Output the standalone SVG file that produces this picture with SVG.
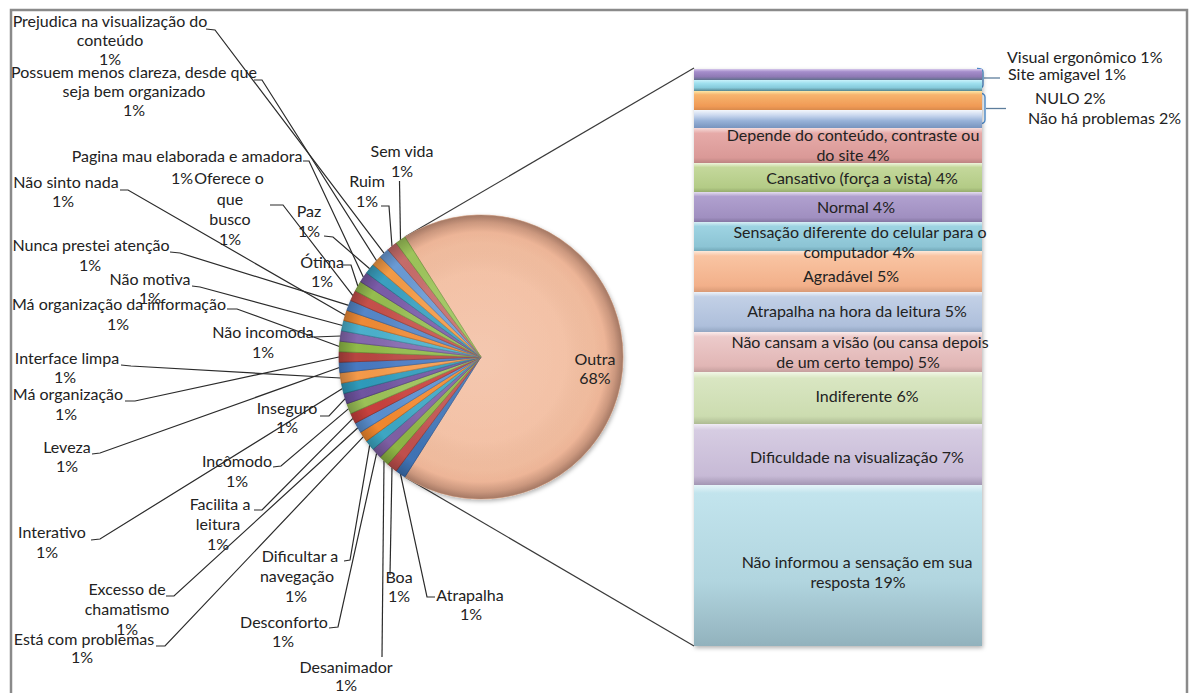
<svg xmlns="http://www.w3.org/2000/svg" xmlns:xlink="http://www.w3.org/1999/xlink" width="1191" height="693" viewBox="0 0 1191 693">
  <style>
    text { font-family: Lato, "Liberation Sans", sans-serif; font-size: 16px; fill: #222; }
    .lbl text { text-anchor: middle; }
    .side text { text-anchor: start; }
    .lead { fill: none; stroke: #2b2b2b; stroke-width: 1.2; }
    .series { fill: none; stroke: #3a3a3a; stroke-width: 1.2; }
    .brace { fill: none; stroke: #4f8fd0; stroke-width: 1.4; }
    .tick { fill: none; stroke: #5d7d9c; stroke-width: 1.3; }
    .slice { stroke-width: 0.8; stroke-opacity: 0.9; }
  </style>
  <defs>
    <!-- one 1/27 wedge of the 32% block, pointing up from the pie centre -->
    <path id="wedge" d="M0,0 L0,-142 A142,142 0 0 1 10.57,-141.61 Z"/>
    <radialGradient id="outraFill" cx="481" cy="357" r="142" gradientUnits="userSpaceOnUse">
      <stop offset="0" stop-color="#f3c0a5"/>
      <stop offset="0.8" stop-color="#f2bd9f"/>
      <stop offset="0.95" stop-color="#e8ad90"/>
      <stop offset="1" stop-color="#d39a80"/>
    </radialGradient>
    <radialGradient id="pieShade" cx="481" cy="357" r="142" gradientUnits="userSpaceOnUse">
      <stop offset="0" stop-color="#ffffff" stop-opacity="0.12"/>
      <stop offset="0.6" stop-color="#ffffff" stop-opacity="0.06"/>
      <stop offset="0.88" stop-color="#000000" stop-opacity="0"/>
      <stop offset="1" stop-color="#000000" stop-opacity="0.22"/>
    </radialGradient>
    <filter id="soft" x="-10%" y="-10%" width="120%" height="120%">
      <feDropShadow dx="1" dy="2" stdDeviation="2" flood-color="#000" flood-opacity="0.3"/>
    </filter>
    <!-- bar segment shading: bright top edge, darker bottom edge -->
    <linearGradient id="gVE" x1="0" y1="0" x2="0" y2="1"><stop offset="0" stop-color="#d6c8ec"/><stop offset="0.25" stop-color="#a58dcb"/><stop offset="0.7" stop-color="#8f7ab5"/><stop offset="1" stop-color="#5f6f8c"/></linearGradient>
    <linearGradient id="gSA" x1="0" y1="0" x2="0" y2="1"><stop offset="0" stop-color="#c9f1fa"/><stop offset="0.3" stop-color="#9fe0ef"/><stop offset="0.7" stop-color="#86cadb"/><stop offset="1" stop-color="#56858f"/></linearGradient>
    <linearGradient id="gNULO" x1="0" y1="0" x2="0" y2="1"><stop offset="0" stop-color="#fde7a6"/><stop offset="0.2" stop-color="#f7b46e"/><stop offset="0.8" stop-color="#f09a55"/><stop offset="1" stop-color="#d98a4c"/></linearGradient>
    <linearGradient id="gNHP" x1="0" y1="0" x2="0" y2="1"><stop offset="0" stop-color="#f4f7fc"/><stop offset="0.3" stop-color="#c9d7ee"/><stop offset="0.6" stop-color="#98b2d8"/><stop offset="1" stop-color="#7894be"/></linearGradient>
    <linearGradient id="gDep" x1="0" y1="0" x2="0" y2="1"><stop offset="0" stop-color="#f6dcdb"/><stop offset="0.15" stop-color="#e6aaa8"/><stop offset="0.85" stop-color="#da9997"/><stop offset="1" stop-color="#bd8482"/></linearGradient>
    <linearGradient id="gCan" x1="0" y1="0" x2="0" y2="1"><stop offset="0" stop-color="#eef4dc"/><stop offset="0.15" stop-color="#c4d89b"/><stop offset="0.85" stop-color="#b3cb86"/><stop offset="1" stop-color="#97ad6e"/></linearGradient>
    <linearGradient id="gNor" x1="0" y1="0" x2="0" y2="1"><stop offset="0" stop-color="#e4ddef"/><stop offset="0.15" stop-color="#b0a0cf"/><stop offset="0.85" stop-color="#a08fc0"/><stop offset="1" stop-color="#8576a3"/></linearGradient>
    <linearGradient id="gSen" x1="0" y1="0" x2="0" y2="1"><stop offset="0" stop-color="#d8eff5"/><stop offset="0.15" stop-color="#9dd3e2"/><stop offset="0.85" stop-color="#8cc4d4"/><stop offset="1" stop-color="#72a8b8"/></linearGradient>
    <linearGradient id="gAgr" x1="0" y1="0" x2="0" y2="1"><stop offset="0" stop-color="#fde9da"/><stop offset="0.12" stop-color="#f9c4a2"/><stop offset="0.85" stop-color="#f2b08a"/><stop offset="1" stop-color="#d99a76"/></linearGradient>
    <linearGradient id="gAtr" x1="0" y1="0" x2="0" y2="1"><stop offset="0" stop-color="#eef2f8"/><stop offset="0.12" stop-color="#c2d0e6"/><stop offset="0.85" stop-color="#aebfdb"/><stop offset="1" stop-color="#93a6c2"/></linearGradient>
    <linearGradient id="gNC" x1="0" y1="0" x2="0" y2="1"><stop offset="0" stop-color="#fbecec"/><stop offset="0.12" stop-color="#eccaca"/><stop offset="0.85" stop-color="#e1b6b5"/><stop offset="1" stop-color="#c59f9e"/></linearGradient>
    <linearGradient id="gInd" x1="0" y1="0" x2="0" y2="1"><stop offset="0" stop-color="#f2f7e7"/><stop offset="0.12" stop-color="#d9e6c2"/><stop offset="0.85" stop-color="#ccdcb0"/><stop offset="1" stop-color="#aebb93"/></linearGradient>
    <linearGradient id="gDif" x1="0" y1="0" x2="0" y2="1"><stop offset="0" stop-color="#f0ecf5"/><stop offset="0.1" stop-color="#d6cce2"/><stop offset="0.85" stop-color="#c7bad6"/><stop offset="1" stop-color="#a396b3"/></linearGradient>
    <linearGradient id="gNI" x1="0" y1="0" x2="0" y2="1"><stop offset="0" stop-color="#e6f5f9"/><stop offset="0.05" stop-color="#c2e4ed"/><stop offset="0.6" stop-color="#b1d5df"/><stop offset="1" stop-color="#92b2bd"/></linearGradient>
  </defs>

  <rect x="0" y="0" width="1191" height="693" fill="#ffffff"/>
  <!-- chart area frame -->
  <rect x="11" y="10" width="1176" height="700" fill="none" stroke="#8a8a8a" stroke-width="2.5"/>

  <g id="connectors">
    <!-- series lines from the Outra slice to the bar -->
    <line class="series" x1="404.9" y1="237.1" x2="694" y2="68"/>
    <line class="series" x1="404.9" y1="476.9" x2="694" y2="646"/>
    <!-- leader lines -->
    <polyline class="lead" points="206,29 215,30 384,253.2"/>
    <polyline class="lead" points="254,80 262,80 376.6,260.7"/>
    <polyline class="lead" points="303,161 309,161 363.4,277.3"/>
    <polyline class="lead" points="270,205 283,205 352.9,295.7"/>
    <polyline class="lead" points="120,190 128,190 345.2,315.3"/>
    <polyline class="lead" points="399.5,181 400.5,240"/>
    <polyline class="lead" points="381,206 389,206 392,246.4"/>
    <polyline class="lead" points="324,236 333,237 369.7,268.8"/>
    <polyline class="lead" points="343,265 351,265 357.9,286.3"/>
    <polyline class="lead" points="170,252 180,253 348.7,305.4"/>
    <polyline class="lead" points="192,286 200,287 342.5,325.5"/>
    <polyline class="lead" points="227,309 237,309 339.4,346.5"/>
    <polyline class="lead" points="314,337 340.6,336"/>
    <polyline class="lead" points="121,365 131,366 340.6,378"/>
    <polyline class="lead" points="125,401 135,401 339,357"/>
    <polyline class="lead" points="92,454 100,453 339.4,367.5"/>
    <polyline class="lead" points="320,416 329,416 345.2,398.7"/>
    <polyline class="lead" points="273,467 281,466 348.7,408.6"/>
    <polyline class="lead" points="91,540 100,539 342.5,388.5"/>
    <polyline class="lead" points="254,510 262,510 352.9,418.3"/>
    <polyline class="lead" points="166,596 174,596 357.9,427.7"/>
    <polyline class="lead" points="156,646 165,646 363.4,436.7"/>
    <polyline class="lead" points="344,561 350,560 369.7,445.2"/>
    <polyline class="lead" points="329,628 338,627 376.6,453.3"/>
    <polyline class="lead" points="382,657 384,460.8"/>
    <polyline class="lead" points="390,575 392,467.6"/>
    <polyline class="lead" points="435,597 427,597 400.5,474"/>
    <!-- braces grouping the thin bar segments -->
    <path class="brace" d="M977,68.5 Q983,68.5 983,72 V85 Q983,88.5 977,88.5"/>
    <path class="tick" d="M984,78 H1000"/>
    <path class="brace" d="M978,93 Q985,93 985,97 V120 Q985,124 978,124"/>
    <path class="tick" d="M986,108.5 H1006"/>
  </g>

  <!-- first plot: pie with the grouped Outra slice -->
  <g id="pie" filter="url(#soft)">
    <path id="slice-outra" d="M481,357 L404.92,237.11 A142,142 0 1 1 404.92,476.89 Z" fill="url(#outraFill)" stroke="#d9a588" stroke-width="0.8"/>
    <g id="small-slices" class="slice">
      <use href="#wedge" transform="translate(481,357) rotate(212.4)" fill="#3f73b5" stroke="#2d5690"/>
      <use href="#wedge" transform="translate(481,357) rotate(216.667)" fill="#c0504d" stroke="#8f3936"/>
      <use href="#wedge" transform="translate(481,357) rotate(220.933)" fill="#8db544" stroke="#6a8a30"/>
      <use href="#wedge" transform="translate(481,357) rotate(225.2)" fill="#7e5fa4" stroke="#5c447c"/>
      <use href="#wedge" transform="translate(481,357) rotate(229.467)" fill="#3ca6c3" stroke="#2a7d93"/>
      <use href="#wedge" transform="translate(481,357) rotate(233.733)" fill="#f2882e" stroke="#b86420"/>
      <use href="#wedge" transform="translate(481,357) rotate(238)" fill="#5a8fd0" stroke="#3e6ba3"/>
      <use href="#wedge" transform="translate(481,357) rotate(242.267)" fill="#c8403c" stroke="#92302c"/>
      <use href="#wedge" transform="translate(481,357) rotate(246.533)" fill="#9bc157" stroke="#74943e"/>
      <use href="#wedge" transform="translate(481,357) rotate(250.8)" fill="#6f54a0" stroke="#513c78"/>
      <use href="#wedge" transform="translate(481,357) rotate(255.067)" fill="#2f9bbb" stroke="#22738c"/>
      <use href="#wedge" transform="translate(481,357) rotate(259.333)" fill="#f59a4a" stroke="#ba7234"/>
      <use href="#wedge" transform="translate(481,357) rotate(263.6)" fill="#4779c2" stroke="#335a92"/>
      <use href="#wedge" transform="translate(481,357) rotate(267.867)" fill="#b84541" stroke="#883230"/>
      <use href="#wedge" transform="translate(481,357) rotate(272.133)" fill="#8fba48" stroke="#6b8c34"/>
      <use href="#wedge" transform="translate(481,357) rotate(276.4)" fill="#8468ae" stroke="#604b82"/>
      <use href="#wedge" transform="translate(481,357) rotate(280.667)" fill="#4bb0cc" stroke="#34849a"/>
      <use href="#wedge" transform="translate(481,357) rotate(284.933)" fill="#ee8a35" stroke="#b46626"/>
      <use href="#wedge" transform="translate(481,357) rotate(289.2)" fill="#5486c8" stroke="#3c6498"/>
      <use href="#wedge" transform="translate(481,357) rotate(293.467)" fill="#c5504b" stroke="#933a36"/>
      <use href="#wedge" transform="translate(481,357) rotate(297.733)" fill="#95bc50" stroke="#708e3a"/>
      <use href="#wedge" transform="translate(481,357) rotate(302)" fill="#7a5ca8" stroke="#59427e"/>
      <use href="#wedge" transform="translate(481,357) rotate(306.267)" fill="#3aa0c0" stroke="#297890"/>
      <use href="#wedge" transform="translate(481,357) rotate(310.533)" fill="#f39a45" stroke="#b87432"/>
      <use href="#wedge" transform="translate(481,357) rotate(314.8)" fill="#6a9ad4" stroke="#4c74a4"/>
      <use href="#wedge" transform="translate(481,357) rotate(319.067)" fill="#c56c6a" stroke="#955150"/>
      <use href="#wedge" transform="translate(481,357) rotate(323.333)" fill="#9dc45a" stroke="#779642"/>
    </g>
    <circle cx="481" cy="357" r="142" fill="url(#pieShade)"/>
  </g>

  <!-- second plot: stacked bar breaking down Outra -->
  <g id="bar" filter="url(#soft)">
    <rect id="seg-visual" x="694" y="69" width="288" height="11" fill="url(#gVE)"/>
    <rect id="seg-site" x="694" y="80" width="288" height="11" fill="url(#gSA)"/>
    <rect id="seg-nulo" x="694" y="91" width="288" height="19" fill="url(#gNULO)"/>
    <rect id="seg-nao-ha" x="694" y="110" width="288" height="18" fill="url(#gNHP)"/>
    <rect id="seg-depende" x="694" y="128" width="288" height="35" fill="url(#gDep)"/>
    <rect id="seg-cansativo" x="694" y="163" width="288" height="29" fill="url(#gCan)"/>
    <rect id="seg-normal" x="694" y="192" width="288" height="30" fill="url(#gNor)"/>
    <rect id="seg-sensacao" x="694" y="222" width="288" height="29" fill="url(#gSen)"/>
    <rect id="seg-agradavel" x="694" y="251" width="288" height="41" fill="url(#gAgr)"/>
    <rect id="seg-atrapalha" x="694" y="292" width="288" height="40" fill="url(#gAtr)"/>
    <rect id="seg-nao-cansam" x="694" y="332" width="288" height="40" fill="url(#gNC)"/>
    <rect id="seg-indiferente" x="694" y="372" width="288" height="52" fill="url(#gInd)"/>
    <rect id="seg-dificuldade" x="694" y="424" width="288" height="61" fill="url(#gDif)"/>
    <rect id="seg-nao-informou" x="694" y="485" width="288" height="161" fill="url(#gNI)"/>
  </g>

  <!-- bar labels -->
  <g id="bar-labels" class="lbl">
    <g id="lbl-depende"><text x="853" y="141">Depende do conteúdo, contraste ou</text><text x="853" y="161">do site 4%</text></g>
    <g id="lbl-cansativo"><text x="862" y="184">Cansativo (força a vista) 4%</text></g>
    <g id="lbl-normal"><text x="856" y="213">Normal 4%</text></g>
    <g id="lbl-sensacao"><text x="860" y="238">Sensação diferente do celular para o</text><text x="859" y="258">computador 4%</text></g>
    <g id="lbl-agradavel"><text x="851" y="282">Agradável 5%</text></g>
    <g id="lbl-atrapalha-leitura"><text x="857" y="317">Atrapalha na hora da leitura 5%</text></g>
    <g id="lbl-nao-cansam"><text x="860" y="348">Não cansam a visão (ou cansa depois</text><text x="858" y="368">de um certo tempo) 5%</text></g>
    <g id="lbl-indiferente"><text x="867" y="402">Indiferente 6%</text></g>
    <g id="lbl-dificuldade"><text x="857" y="463">Dificuldade na visualização 7%</text></g>
    <g id="lbl-nao-informou"><text x="857" y="568">Não informou a sensação em sua</text><text x="858" y="588">resposta 19%</text></g>
    <g id="lbl-outra"><text x="595" y="365">Outra</text><text x="595" y="384">68%</text></g>
  </g>
  <g id="side-labels" class="side">
    <g id="lbl-visual"><text x="1007" y="63">Visual ergonômico 1%</text></g>
    <g id="lbl-site"><text x="1008" y="80">Site amigavel 1%</text></g>
    <g id="lbl-nulo"><text x="1035" y="104">NULO 2%</text></g>
    <g id="lbl-nao-ha"><text x="1028" y="124">Não há problemas 2%</text></g>
  </g>

  <!-- pie labels -->
  <g id="pie-labels" class="lbl">
    <g id="lbl-prejudica"><text x="110" y="27">Prejudica na visualização do</text><text x="110" y="46">conteúdo</text><text x="110" y="65">1%</text></g>
    <g id="lbl-possuem"><text x="134" y="78">Possuem menos clareza, desde que</text><text x="134" y="97">seja bem organizado</text><text x="134" y="116">1%</text></g>
    <g id="lbl-pagina"><text x="187" y="162">Pagina mau elaborada e amadora</text><text x="182" y="184">1%</text></g>
    <g id="lbl-oferece"><text x="229" y="184">Oferece o</text><text x="230" y="205">que</text><text x="230" y="225">busco</text><text x="230" y="245">1%</text></g>
    <g id="lbl-nao-sinto"><text x="66" y="188">Não sinto nada</text><text x="63" y="207">1%</text></g>
    <g id="lbl-sem-vida"><text x="402" y="157">Sem vida</text><text x="402" y="177">1%</text></g>
    <g id="lbl-ruim"><text x="367" y="187">Ruim</text><text x="367" y="207">1%</text></g>
    <g id="lbl-paz"><text x="309" y="217">Paz</text><text x="309" y="237">1%</text></g>
    <g id="lbl-otima"><text x="322" y="268">Ótima</text><text x="322" y="287">1%</text></g>
    <g id="lbl-nunca"><text x="91" y="251">Nunca prestei atenção</text><text x="90" y="271">1%</text></g>
    <g id="lbl-nao-motiva"><text x="150" y="285">Não motiva</text><text x="150" y="304">1%</text></g>
    <g id="lbl-ma-org-info"><text x="119" y="310">Má organização da informação</text><text x="118" y="330">1%</text></g>
    <g id="lbl-nao-incomoda"><text x="263" y="338">Não incomoda</text><text x="263" y="358">1%</text></g>
    <g id="lbl-interface"><text x="67" y="364">Interface limpa</text><text x="65" y="383">1%</text></g>
    <g id="lbl-ma-org"><text x="68" y="400">Má organização</text><text x="66" y="420">1%</text></g>
    <g id="lbl-leveza"><text x="67" y="453">Leveza</text><text x="67" y="472">1%</text></g>
    <g id="lbl-inseguro"><text x="287" y="414">Inseguro</text><text x="287" y="433">1%</text></g>
    <g id="lbl-incomodo"><text x="237" y="467">Incômodo</text><text x="237" y="487">1%</text></g>
    <g id="lbl-interativo"><text x="52" y="538">Interativo</text><text x="47" y="558">1%</text></g>
    <g id="lbl-facilita"><text x="220" y="510">Facilita a</text><text x="218" y="530">leitura</text><text x="218" y="550">1%</text></g>
    <g id="lbl-excesso"><text x="127" y="595">Excesso de</text><text x="127" y="615">chamatismo</text><text x="127" y="635">1%</text></g>
    <g id="lbl-esta-com"><text x="84" y="645">Está com problemas</text><text x="82" y="663">1%</text></g>
    <g id="lbl-dificultar"><text x="300" y="562">Dificultar a</text><text x="297" y="582">navegação</text><text x="296" y="602">1%</text></g>
    <g id="lbl-desconforto"><text x="284" y="628">Desconforto</text><text x="283" y="647">1%</text></g>
    <g id="lbl-desanimador"><text x="346" y="673">Desanimador</text><text x="346" y="691">1%</text></g>
    <g id="lbl-boa"><text x="399" y="583">Boa</text><text x="399" y="602">1%</text></g>
    <g id="lbl-atrapalha"><text x="470" y="601">Atrapalha</text><text x="471" y="620">1%</text></g>
  </g>
</svg>
